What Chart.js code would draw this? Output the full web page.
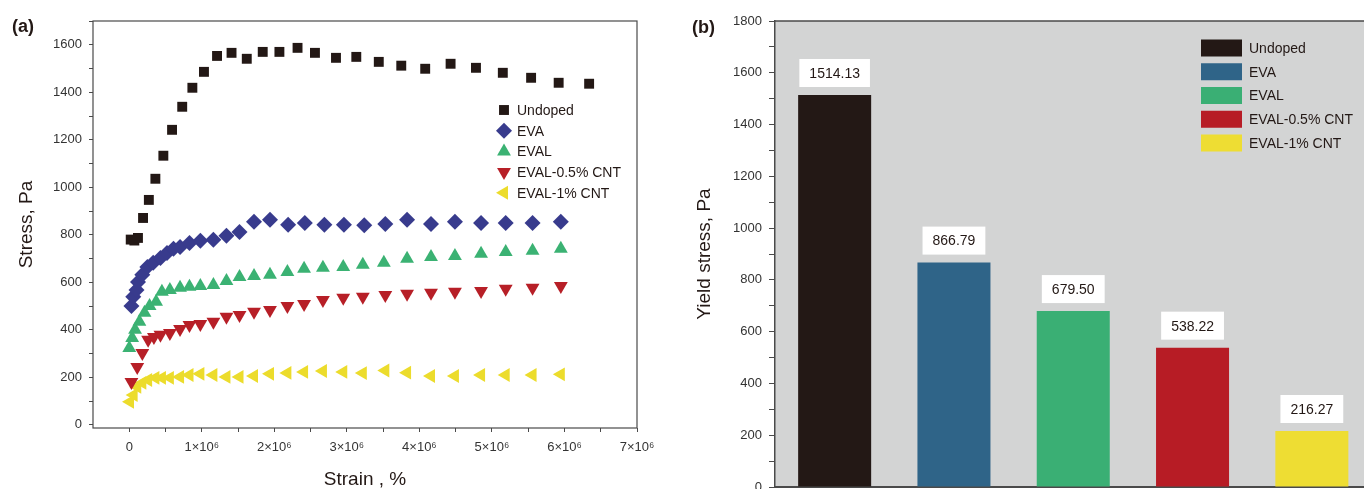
<!DOCTYPE html>
<html><head><meta charset="utf-8">
<script src="https://cdn.jsdelivr.net/npm/chart.js@4.4.1/dist/chart.umd.min.js"></script>
<style>
html,body{margin:0;padding:0;background:#fff;overflow:hidden;width:1364px;height:489px;}
#wa{position:absolute;left:0;top:0;width:680px;height:489px;}
#wb{position:absolute;left:680px;top:0;width:684px;height:489px;overflow:hidden;}
canvas{display:block;}
.lab{position:absolute;font:bold 18px "Liberation Sans",Arial,sans-serif;color:#231815;line-height:20px;}
</style></head><body>
<div id="wa"><canvas id="ca" width="680" height="489"></canvas></div>
<div id="wb"><canvas id="cb" width="692" height="489"></canvas></div>
<div class="lab" style="left:12px;top:16px">(a)</div>
<div class="lab" style="left:692px;top:17px">(b)</div>
<script>
// ---------- data ----------
const seriesNames = ['Undoped', 'EVA', 'EVAL', 'EVAL-0.5% CNT', 'EVAL-1% CNT'];

// strain in units of 10^6 %, stress in Pa
const undopedStrain = [0.02,0.07,0.12,0.19,0.27,0.36,0.47,0.59,0.73,0.87,1.03,1.21,1.41,1.62,1.84,2.07,2.32,2.56,2.85,3.13,3.44,3.75,4.08,4.43,4.78,5.15,5.54,5.92,6.34];
const undopedStress = [780,776,787,871,947,1036,1133,1242,1339,1419,1486,1553,1566,1541,1570,1570,1587,1566,1545,1549,1528,1512,1499,1520,1503,1482,1461,1440,1436];

const evaStrain = [0.03,0.055,0.10,0.12,0.18,0.25,0.33,0.43,0.52,0.61,0.70,0.83,0.98,1.16,1.34,1.52,1.72,1.94,2.19,2.42,2.69,2.96,3.24,3.53,3.83,4.16,4.49,4.85,5.19,5.56,5.95];
const evaStress = [501,539,568,602,632,665,682,703,724,741,749,766,775,779,796,812,855,863,842,850,842,842,840,846,863,846,855,850,850,850,855];

const evalStrain = [0,0.04,0.08,0.14,0.21,0.28,0.37,0.45,0.56,0.70,0.83,0.98,1.16,1.34,1.52,1.72,1.94,2.18,2.41,2.67,2.95,3.22,3.51,3.83,4.16,4.49,4.85,5.19,5.56,5.95];
const evalStress = [324,366,400,434,472,501,518,560,568,577,581,585,589,606,623,627,632,644,657,661,665,674,682,699,707,711,720,728,733,741];

const eval05Strain = [0.03,0.11,0.18,0.26,0.34,0.43,0.56,0.70,0.83,0.98,1.16,1.34,1.52,1.72,1.94,2.18,2.41,2.67,2.95,3.22,3.53,3.83,4.16,4.49,4.85,5.19,5.56,5.95];
const eval05Stress = [181,244,303,358,370,379,387,404,421,425,434,455,463,476,484,501,509,526,535,539,547,552,556,560,564,573,577,585];

const eval1Strain = [0.01,0.06,0.11,0.18,0.26,0.36,0.45,0.56,0.70,0.83,0.98,1.16,1.34,1.52,1.72,1.94,2.18,2.41,2.67,2.95,3.22,3.53,3.83,4.16,4.49,4.85,5.19,5.56,5.95];
const eval1Stress = [97,126,160,177,189,198,198,198,202,210,215,210,202,202,206,215,219,223,227,223,218,229,220,206,206,210,210,210,213];

const yieldStress = [1514.13, 866.79, 679.50, 538.22, 216.27];

// tick positions (major labelled, minor unlabelled)
const strainTicks = [0,0.5,1,1.5,2,2.5,3,3.5,4,4.5,5,5.5,6,6.5,7];
const stressTicks = [0,100,200,300,400,500,600,700,800,900,1000,1100,1200,1300,1400,1500,1600,1700];
const yieldTicks = [0,100,200,300,400,500,600,700,800,900,1000,1100,1200,1300,1400,1500,1600,1700,1800];

// ---------- styles ----------
const FONT = '"Liberation Sans", Arial, Helvetica, sans-serif';
Chart.defaults.font.family = FONT;
Chart.defaults.color = '#333';
const AXIS = '#4a4a4a';
const pointColors = ['#231815', '#383b8d', '#3bb273', '#b71f27', '#ecdc2c'];
const barColors = ['#231815', '#2f6488', '#3aaf74', '#b71c25', '#eedd33'];
const markers = [
  {pointStyle: 'rect', rotation: 0, radius: 7},
  {pointStyle: 'rectRot', rotation: 0, radius: 8},
  {pointStyle: 'triangle', rotation: 0, radius: 8},
  {pointStyle: 'triangle', rotation: 180, radius: 8},
  {pointStyle: 'triangle', rotation: -90, radius: 8}
];

const strains = [undopedStrain, evaStrain, evalStrain, eval05Strain, eval1Strain];
const stresses = [undopedStress, evaStress, evalStress, eval05Stress, eval1Stress];

function drawMarker(ctx, m, x, y) {
  if (Chart.helpers && Chart.helpers.drawPoint) {
    Chart.helpers.drawPoint(ctx, {pointStyle: m.pointStyle, rotation: m.rotation, radius: m.radius, borderWidth: 0}, x, y);
    return;
  }
  ctx.save(); ctx.translate(x, y); ctx.rotate(m.rotation * Math.PI / 180);
  ctx.beginPath();
  const r = m.radius;
  if (m.pointStyle === 'rect') { const s = r * Math.SQRT1_2; ctx.rect(-s, -s, 2 * s, 2 * s); }
  else if (m.pointStyle === 'rectRot') { ctx.moveTo(0, -r); ctx.lineTo(r, 0); ctx.lineTo(0, r); ctx.lineTo(-r, 0); ctx.closePath(); }
  else { for (let k = 0; k < 3; k++) { const a = k * 2 * Math.PI / 3; const px = Math.sin(a) * r, py = -Math.cos(a) * r; k ? ctx.lineTo(px, py) : ctx.moveTo(px, py); } ctx.closePath(); }
  ctx.fill(); ctx.restore();
}

// ---------- panel (a) ----------
const frameA = {
  id: 'frameA',
  afterDraw(chart) {
    const {ctx, chartArea: a} = chart;
    ctx.save();
    ctx.strokeStyle = AXIS; ctx.lineWidth = 1.2;
    ctx.strokeRect(a.left, a.top, a.right - a.left, a.bottom - a.top);
    // legend
    ctx.font = '14px ' + FONT;
    ctx.textBaseline = 'middle';
    ctx.textAlign = 'left';
    seriesNames.forEach((name, i) => {
      const y = 110 + i * 20.7;
      ctx.fillStyle = pointColors[i];
      drawMarker(ctx, markers[i], 504, y);
      ctx.fillStyle = '#231815';
      ctx.fillText(name, 517, y + 1);
    });
    ctx.restore();
  }
};

new Chart(document.getElementById('ca'), {
  type: 'scatter',
  data: {
    datasets: seriesNames.map((name, i) => ({
      label: name,
      data: strains[i].map((x, k) => ({x: x, y: stresses[i][k]})),
      backgroundColor: pointColors[i],
      borderColor: pointColors[i],
      borderWidth: 0,
      pointStyle: markers[i].pointStyle,
      rotation: markers[i].rotation,
      pointRadius: markers[i].radius,
      pointHoverRadius: markers[i].radius
    }))
  },
  options: {
    responsive: false,
    animation: false,
    layout: {padding: {top: 21, right: 43, left: 0, bottom: 0}},
    plugins: {legend: {display: false}, tooltip: {enabled: false}},
    scales: {
      x: {
        type: 'linear', min: -0.5, max: 7,
        afterFit: s => { s.height = 61; },
        afterBuildTicks: s => { s.ticks = strainTicks.map(v => ({value: v})); },
        border: {display: false},
        grid: {drawOnChartArea: false, drawTicks: true, tickLength: 4, tickColor: AXIS},
        ticks: {
          autoSkip: false, maxRotation: 0, padding: 8,
          font: {size: 13}, color: '#333',
          callback: v => (Math.abs(v - Math.round(v)) < 1e-9) ? (v === 0 ? '0' : Math.round(v) + '×10⁶') : ''
        },
        title: {display: true, text: 'Strain , %', font: {size: 19, lineHeight: 1}, color: '#231815', padding: {top: 0, bottom: 0}}
      },
      y: {
        type: 'linear', min: -13, max: 1700,
        afterFit: s => { s.width = 93; },
        afterBuildTicks: s => { s.ticks = stressTicks.map(v => ({value: v})); },
        border: {display: false},
        grid: {drawOnChartArea: false, drawTicks: true, tickLength: 4, tickColor: AXIS},
        ticks: {
          autoSkip: false, padding: 7,
          font: {size: 13}, color: '#333',
          callback: v => (v % 200 === 0) ? String(v) : ''
        },
        title: {display: true, text: 'Stress, Pa', font: {size: 19, lineHeight: 1}, color: '#231815', padding: {top: 17, bottom: 0}}
      }
    }
  },
  plugins: [frameA]
});

// ---------- panel (b) ----------
const bgB = {
  id: 'bgB',
  beforeDraw(chart) {
    const {ctx, chartArea: a} = chart;
    ctx.save();
    ctx.fillStyle = '#d3d4d4';
    ctx.fillRect(a.left, a.top, a.right - a.left, a.bottom - a.top);
    ctx.restore();
  },
  afterDatasetsDraw(chart) {
    const {ctx, chartArea: a} = chart;
    ctx.save();
    ctx.strokeStyle = AXIS; ctx.lineWidth = 1.5;
    ctx.beginPath();
    ctx.moveTo(a.left, a.top); ctx.lineTo(a.right, a.top);
    ctx.stroke();
    // value labels
    ctx.font = '14px ' + FONT;
    ctx.textAlign = 'center'; ctx.textBaseline = 'middle';
    const meta = chart.getDatasetMeta(0);
    meta.data.forEach((bar, i) => {
      const txt = yieldStress[i].toFixed(2);
      const w = ctx.measureText(txt).width + 20;
      const h = 28;
      const top = bar.y - 8 - h;
      ctx.fillStyle = '#ffffff';
      ctx.fillRect(bar.x - w / 2, top, w, h);
      ctx.fillStyle = '#231815';
      ctx.fillText(txt, bar.x, top + h / 2 + 1);
    });
    // legend
    ctx.textAlign = 'left';
    seriesNames.forEach((name, i) => {
      const y = 48 + i * 23.75;
      ctx.fillStyle = barColors[i];
      ctx.fillRect(521, y - 8.5, 41, 17);
      ctx.fillStyle = '#231815';
      ctx.fillText(name, 569, y + 1);
    });
    ctx.restore();
  }
};

new Chart(document.getElementById('cb'), {
  type: 'bar',
  data: {
    labels: seriesNames,
    datasets: [{
      label: 'Yield stress',
      data: yieldStress,
      backgroundColor: barColors,
      borderWidth: 0,
      barPercentage: 0.612,
      categoryPercentage: 1.0
    }]
  },
  options: {
    responsive: false,
    animation: false,
    layout: {padding: {top: 21, right: 0.5, left: 0, bottom: 0}},
    plugins: {legend: {display: false}, tooltip: {enabled: false}},
    scales: {
      x: {
        type: 'category',
        afterFit: s => { s.height = 2; s.paddingLeft = 0; s.paddingRight = 0; },
        border: {display: true, color: AXIS, width: 2},
        grid: {display: false, drawTicks: false},
        ticks: {display: false}
      },
      y: {
        min: 0, max: 1800,
        afterFit: s => { s.width = 95; s.paddingTop = 0; s.paddingBottom = 0; },
        afterBuildTicks: s => { s.ticks = yieldTicks.map(v => ({value: v})); },
        border: {display: true, color: AXIS, width: 1.5},
        grid: {drawOnChartArea: false, drawTicks: true, tickLength: 6, tickColor: AXIS},
        ticks: {
          autoSkip: false, padding: 7,
          font: {size: 13}, color: '#333',
          callback: v => (v % 200 === 0) ? String(v) : ''
        },
        title: {display: true, text: 'Yield stress, Pa', font: {size: 19, lineHeight: 1}, color: '#231815', padding: {top: 15, bottom: 0}}
      }
    }
  },
  plugins: [bgB]
});
</script>
</body></html>
